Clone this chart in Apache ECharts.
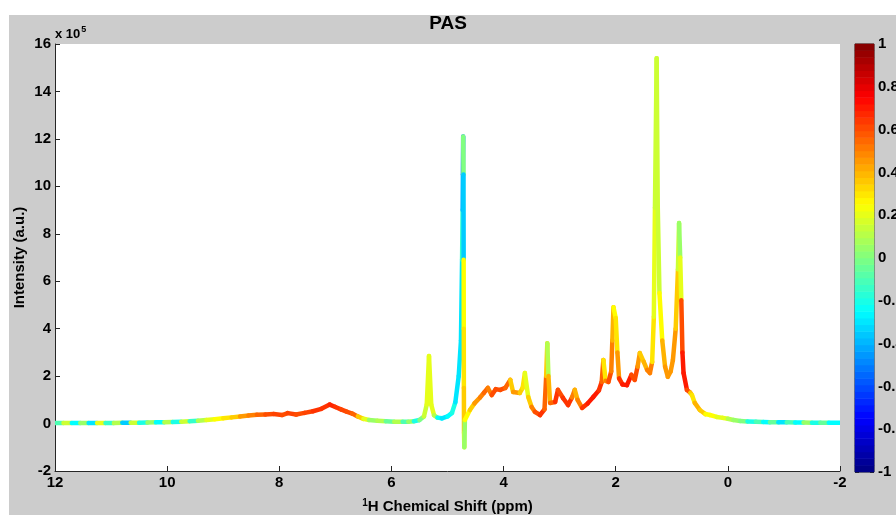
<!DOCTYPE html>
<html>
<head>
<meta charset="utf-8">
<script src="https://cdn.jsdelivr.net/npm/echarts@6/dist/echarts.min.js"></script>
<style>
html,body{margin:0;padding:0;background:#fff;}
#bg{position:absolute;left:9px;top:15px;width:887px;height:500px;background:#cccccc;}
#chart{position:absolute;left:0;top:0;width:896px;height:515px;}
</style>
</head>
<body>
<div id="bg"></div>
<div id="chart"></div>
<script>
// Chemical shift (ppm)
const ppm = [12.0,11.85,11.7,11.55,11.4,11.25,11.1,10.95,10.8,10.65,10.5,10.35,10.2,10.05,9.9,9.75,9.6,9.45,9.3,9.15,
  9.0,8.85,8.7,8.55,8.4,8.25,8.1,7.95,7.85,7.7,7.55,7.4,7.25,7.1,7.0,6.9,6.8,6.7,6.6,6.5,
  6.4,6.25,6.1,5.95,5.8,5.7,5.6,5.5,5.42,5.37,5.33,5.29,5.24,5.18,5.1,5.0,4.92,4.86,4.8,4.76,
  4.74,4.73,4.725,4.72,4.715,4.712,4.71,4.708,4.705,4.70,4.69,4.6,4.52,4.42,4.35,4.28,4.21,4.14,4.06,3.97,
  3.88,3.83,3.71,3.66,3.62,3.56,3.5,3.44,3.35,3.27,3.24,3.22,3.2,3.17,3.08,3.03,2.94,2.85,2.78,2.73,
  2.68,2.6,2.5,2.4,2.3,2.25,2.22,2.18,2.13,2.08,2.06,2.04,2.0,1.97,1.94,1.88,1.8,1.72,1.66,1.61,
  1.57,1.5,1.44,1.39,1.35,1.32,1.30,1.27,1.25,1.22,1.17,1.12,1.07,1.02,0.98,0.93,0.89,0.87,0.85,0.83,
  0.81,0.79,0.73,0.67,0.64,0.59,0.5,0.4,0.32,0.2,0.09,0.0,-0.1,-0.22,-0.35,-0.5,-0.63,-0.75,-0.9,-1.05,
  -1.2,-1.35,-1.5,-1.65,-1.8,-2.0];
// Intensity (x 10^5)
const intensity = [0.02,0.02,0.02,0.02,0.02,0.02,0.02,0.02,0.03,0.03,0.03,0.04,0.05,0.06,0.07,0.08,0.1,0.12,0.15,0.18,
  0.22,0.26,0.3,0.34,0.37,0.38,0.4,0.36,0.44,0.38,0.45,0.52,0.62,0.8,0.7,0.6,0.5,0.42,0.3,0.2,
  0.15,0.12,0.1,0.08,0.08,0.08,0.1,0.15,0.3,0.8,2.85,0.8,0.35,0.25,0.22,0.3,0.45,0.9,2.0,3.5,
  6.9,9.0,10.5,12.1,10.5,6.9,4.0,1.5,-0.4,-1.0,0.15,0.57,0.85,1.1,1.3,1.5,1.2,1.45,1.42,1.5,
  1.84,1.33,1.29,1.5,2.13,1.12,0.7,0.49,0.36,0.6,2.0,3.38,2.0,0.87,0.91,1.42,1.08,0.78,1.1,1.42,
  1.0,0.66,0.85,1.12,1.4,1.75,2.68,1.8,1.75,2.2,3.5,4.9,4.45,3.0,1.9,1.65,1.62,2.05,1.84,2.4,
  2.97,2.6,2.26,2.13,2.6,4.5,9.1,15.4,9.1,5.5,3.5,2.4,1.97,2.2,2.68,4.0,6.5,8.45,7.0,5.2,
  3.0,2.13,1.42,1.3,1.2,0.87,0.57,0.4,0.36,0.28,0.24,0.2,0.15,0.11,0.09,0.08,0.07,0.06,0.05,0.05,
  0.04,0.04,0.03,0.03,0.03,0.03];
// Correlation (colour scale)
const corr = [-0.1,0.15,-0.25,0.05,-0.3,0.2,-0.15,0.1,-0.35,0.15,-0.2,0.05,-0.25,0.1,-0.2,0.15,-0.15,0.1,0.2,0.25,
  0.3,0.35,0.45,0.5,0.55,0.6,0.62,0.6,0.62,0.6,0.62,0.65,0.65,0.68,0.65,0.62,0.6,0.55,0.35,0.2,
  0.05,0.1,-0.05,0.1,-0.1,0.05,-0.2,0.0,0.15,0.2,0.2,0.2,0.1,-0.25,-0.3,-0.25,-0.2,-0.3,-0.3,-0.3,
  -0.15,-0.4,-0.5,0.0,-0.35,0.25,0.3,0.35,0.2,0.05,0.25,0.35,0.45,0.5,0.55,0.5,0.6,0.6,0.6,0.55,
  0.35,0.45,0.35,0.3,0.2,0.35,0.5,0.6,0.65,0.55,0.35,0.1,0.4,0.55,0.65,0.6,0.65,0.65,0.5,0.4,
  0.5,0.65,0.7,0.7,0.65,0.55,0.3,0.5,0.6,0.5,0.4,0.25,0.3,0.45,0.65,0.7,0.7,0.6,0.6,0.45,
  0.35,0.4,0.5,0.5,0.3,0.2,0.15,0.15,0.15,0.25,0.4,0.45,0.45,0.45,0.45,0.35,0.15,0.05,0.2,0.6,
  0.7,0.7,0.6,0.35,0.3,0.4,0.35,0.25,0.25,0.2,0.2,0.1,0.05,0.0,-0.2,-0.1,-0.25,-0.05,-0.3,-0.1,
  -0.25,0.05,-0.2,-0.05,-0.25,-0.1];
// Colour bar levels (jet, 64)
const cbLevels = 64;
const jet = ['#000080','#0000ff','#0080ff','#00ffff','#80ff80','#ffff00','#ff8000','#ff0000','#800000'];

const specData = ppm.map((x, i) => [x, intensity[i], corr[i]]);
const cbCats = [];
const cbData = [];
for (let i = 0; i < cbLevels; i++) {
  cbCats.push(String(i));
  cbData.push([0, i, -1 + (i + 0.5) * 2 / cbLevels]);
}

const FONT = "'Liberation Sans', Arial, sans-serif";
const AX = '#262626';
const chart = echarts.init(document.getElementById('chart'));
chart.setOption({
  backgroundColor: 'transparent',
  animation: false,
  textStyle: { fontFamily: FONT },
  title: {
    text: 'PAS', left: 'center', top: 9,
    textStyle: { fontFamily: FONT, fontSize: 19, fontWeight: 'bold', color: '#000' }
  },
  grid: [
    { left: 55, top: 44, width: 785, height: 427, show: true, backgroundColor: '#fff', borderWidth: 0,
      containLabel: false, outerBoundsMode: 'none' },
    { left: 855, top: 44, width: 19, height: 428, show: true, backgroundColor: '#fff', borderColor: AX, borderWidth: 1,
      containLabel: false, outerBoundsMode: 'none' }
  ],
  xAxis: [
    {
      gridIndex: 0, type: 'value', min: -2, max: 12, interval: 2, inverse: true,
      name: '{sup|1}H Chemical Shift (ppm)', nameLocation: 'middle', nameGap: 27, nameMoveOverlap: false,
      nameTextStyle: { fontFamily: FONT, fontSize: 15, fontWeight: 'bold', color: '#000',
        rich: { sup: { fontFamily: FONT, fontSize: 10, fontWeight: 'bold', color: '#000', padding: [0, 0, 8, 0] } } },
      axisLine: { show: true, onZero: false, lineStyle: { color: AX, width: 1 } },
      axisTick: { show: true, inside: true, length: 5, lineStyle: { color: AX } },
      axisLabel: { fontFamily: FONT, fontSize: 15, fontWeight: 'bold', color: '#000', margin: 4 },
      splitLine: { show: false }
    },
    { gridIndex: 1, type: 'category', data: ['c'], show: false }
  ],
  yAxis: [
    {
      gridIndex: 0, type: 'value', min: -2, max: 16, interval: 2,
      name: 'Intensity (a.u.)', nameLocation: 'middle', nameGap: 28, nameMoveOverlap: false,
      nameTextStyle: { fontFamily: FONT, fontSize: 15, fontWeight: 'bold', color: '#000' },
      axisLine: { show: true, onZero: false, lineStyle: { color: AX, width: 1 } },
      axisTick: { show: true, inside: true, length: 5, lineStyle: { color: AX } },
      axisLabel: { fontFamily: FONT, fontSize: 15, fontWeight: 'bold', color: '#000', margin: 4 },
      splitLine: { show: false }
    },
    { gridIndex: 1, type: 'category', data: cbCats, show: false },
    {
      gridIndex: 1, type: 'value', min: -1, max: 1, interval: 0.2, position: 'right',
      axisLine: { show: false, onZero: false },
      axisTick: { show: true, inside: true, length: 4, lineStyle: { color: AX } },
      axisLabel: { fontFamily: FONT, fontSize: 15, fontWeight: 'bold', color: '#000', margin: 4,
        formatter: v => String(Math.round(v * 10) / 10) },
      splitLine: { show: false }
    },
    {
      gridIndex: 1, type: 'value', min: -1, max: 1, interval: 0.2, position: 'left',
      axisLine: { show: false, onZero: false },
      axisTick: { show: true, inside: true, length: 4, lineStyle: { color: AX } },
      axisLabel: { show: false },
      splitLine: { show: false }
    }
  ],
  visualMap: {
    type: 'continuous', show: false, min: -1, max: 1, dimension: 2,
    seriesIndex: [0, 1], inRange: { color: jet }
  },
  graphic: [
    {
      type: 'text', left: 55, top: 25,
      style: {
        text: 'x 10{s|5}',
        font: "bold 13px 'Liberation Sans', Arial, sans-serif",
        fill: '#000',
        rich: { s: { font: "bold 9px 'Liberation Sans', Arial, sans-serif", fill: '#000', padding: [0, 0, 9, 1] } }
      }
    }
  ],
  series: [
    {
      type: 'custom', xAxisIndex: 0, yAxisIndex: 0, clip: true,
      data: specData,
      encode: { x: 0, y: 1 },
      renderItem: function (params, api) {
        const i = params.dataIndex;
        if (i >= specData.length - 1) return;
        const p1 = api.coord([specData[i][0], specData[i][1]]);
        const p2 = api.coord([specData[i + 1][0], specData[i + 1][1]]);
        return {
          type: 'line',
          shape: { x1: p1[0], y1: p1[1], x2: p2[0], y2: p2[1] },
          style: { stroke: api.visual('color'), lineWidth: 4.5, lineCap: 'round' }
        };
      }
    },
    {
      type: 'heatmap', xAxisIndex: 1, yAxisIndex: 1,
      data: cbData, itemStyle: { borderWidth: 0 }
    }
  ]
});
</script>
</body>
</html>
